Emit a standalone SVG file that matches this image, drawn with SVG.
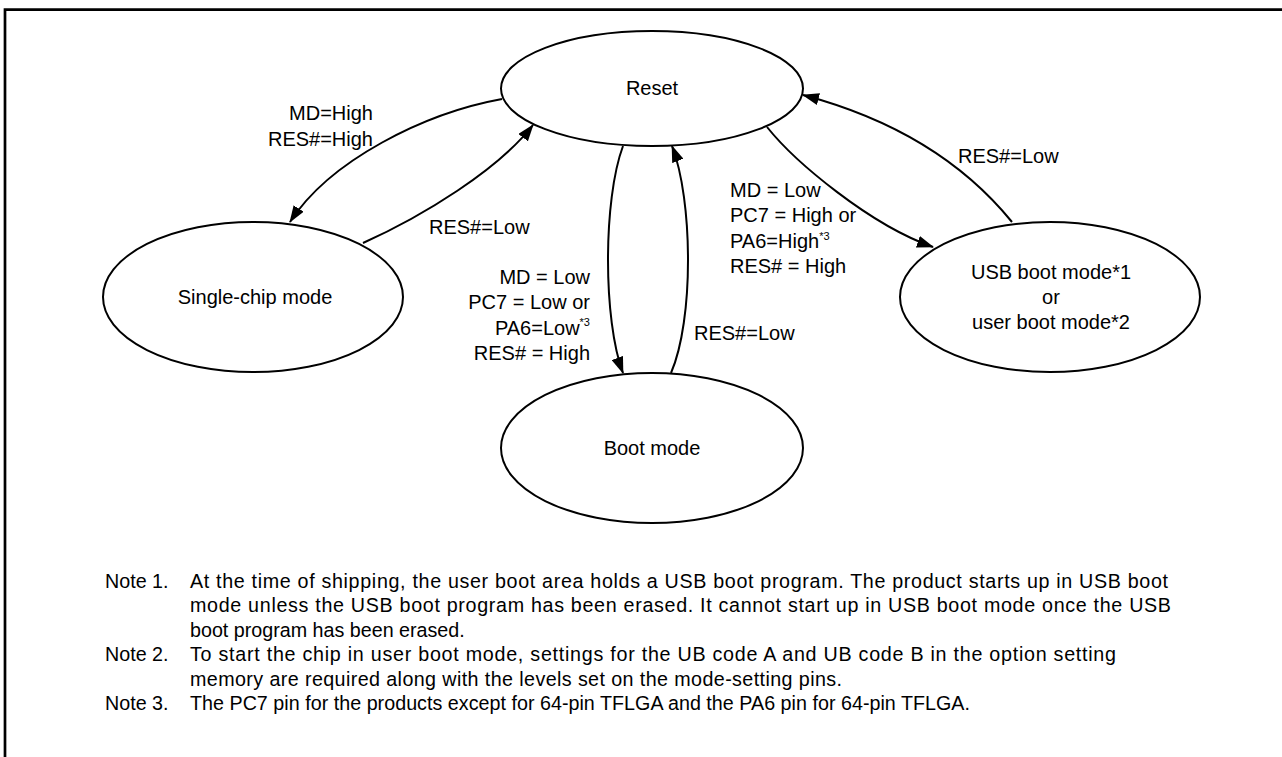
<svg xmlns="http://www.w3.org/2000/svg" width="1282" height="757" viewBox="0 0 1282 757">
<style>
.node{fill:#fff;stroke:#000;stroke-width:2}
.lbl{font-family:"Liberation Sans",Arial,sans-serif;font-size:20px;fill:#000}
.note{font-family:"Liberation Sans",Arial,sans-serif;font-size:19.7px;fill:#000}
.sup{font-size:11px}
.edge{fill:none;stroke:#000;stroke-width:2;marker-end:url(#arr)}
</style>
<defs>
<marker id="arr" markerUnits="userSpaceOnUse" markerWidth="17" markerHeight="12" refX="16" refY="6" orient="auto">
<path d="M0,0 L17,6 L0,12 z" fill="#000"/>
</marker>
</defs>
<rect width="1282" height="757" fill="#fff"/>
<g id="frame">
<path d="M5,757 V9.7 H1282" fill="none" stroke="#000" stroke-width="2.7"/>
</g>
<g id="connectors">
<path class="edge" d="M502,99 C425,113 330,160 290,222"/>
<path class="edge" d="M363,243 C423,216 498,170 533,125"/>
<path class="edge" d="M623,146 C603,200 603,320 623,373"/>
<path class="edge" d="M671,373 C694,320 693,200 672,146"/>
<path class="edge" d="M767,127 C795,162 870,225 933,247"/>
<path class="edge" d="M1012,222 C960,158 890,118 803,95"/>
</g>
<g id="reset">
<ellipse class="node" cx="652" cy="88.5" rx="151" ry="57.5"/>
<text class="lbl" x="652" y="95" text-anchor="middle">Reset</text>
</g>
<g id="single-chip">
<ellipse class="node" cx="253" cy="297" rx="150" ry="75"/>
<text class="lbl" x="255" y="304" text-anchor="middle">Single-chip mode</text>
</g>
<g id="boot">
<ellipse class="node" cx="652" cy="448" rx="151" ry="75"/>
<text class="lbl" x="652" y="455" text-anchor="middle">Boot mode</text>
</g>
<g id="usb">
<ellipse class="node" cx="1050" cy="297" rx="150" ry="75"/>
<text class="lbl" x="1051" y="279" text-anchor="middle">USB boot mode*1</text>
<text class="lbl" x="1051" y="304" text-anchor="middle">or</text>
<text class="lbl" x="1051" y="329" text-anchor="middle">user boot mode*2</text>
</g>
<g id="labels">
<text class="lbl" x="373" y="120" text-anchor="end">MD=High</text>
<text class="lbl" x="373" y="146" text-anchor="end">RES#=High</text>
<text class="lbl" x="429" y="234">RES#=Low</text>
<text class="lbl" x="590" y="284" text-anchor="end">MD = Low</text>
<text class="lbl" x="590" y="309.3" text-anchor="end">PC7 = Low or</text>
<text class="lbl" x="590" y="334.6" text-anchor="end">PA6=Low<tspan class="sup" dy="-8.5">*3</tspan></text>
<text class="lbl" x="590" y="360" text-anchor="end">RES# = High</text>
<text class="lbl" x="694" y="340">RES#=Low</text>
<text class="lbl" x="730" y="197">MD = Low</text>
<text class="lbl" x="730" y="222.3">PC7 = High or</text>
<text class="lbl" x="730" y="247.6">PA6=High<tspan class="sup" dy="-8">*3</tspan></text>
<text class="lbl" x="730" y="273">RES# = High</text>
<text class="lbl" x="958" y="163">RES#=Low</text>
</g>
<g id="notes">
<text class="note" x="105" y="588">Note 1.</text>
<text class="note" x="190" y="588" textLength="978">At the time of shipping, the user boot area holds a USB boot program. The product starts up in USB boot</text>
<text class="note" x="190" y="612.4" textLength="981">mode unless the USB boot program has been erased. It cannot start up in USB boot mode once the USB</text>
<text class="note" x="190" y="636.8">boot program has been erased.</text>
<text class="note" x="105" y="661.2">Note 2.</text>
<text class="note" x="190" y="661.2" textLength="926">To start the chip in user boot mode, settings for the UB code A and UB code B in the option setting</text>
<text class="note" x="190" y="685.6" textLength="652">memory are required along with the levels set on the mode-setting pins.</text>
<text class="note" x="105" y="710">Note 3.</text>
<text class="note" x="190" y="710" textLength="780">The PC7 pin for the products except for 64-pin TFLGA and the PA6 pin for 64-pin TFLGA.</text>
</g>
</svg>
